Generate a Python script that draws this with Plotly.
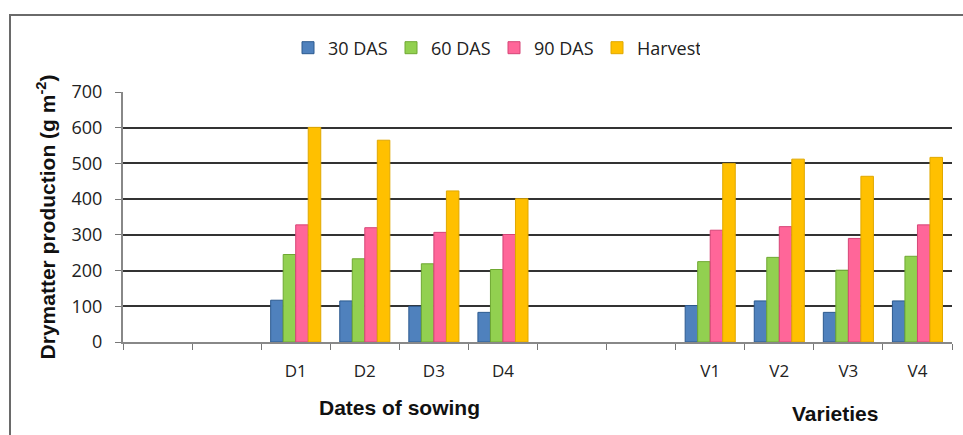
import plotly.graph_objects as go

categories = [" ", "  ", "D1", "D2", "D3", "D4", "   ", "    ", "V1", "V2", "V3", "V4"]
das30 = [None, None, 117, 115, 100, 83, None, None, 102, 115, 83, 115]
das60 = [None, None, 245, 233, 219, 203, None, None, 225, 237, 201, 240]
das90 = [None, None, 328, 320, 307, 301, None, None, 313, 323, 290, 328]
harvest = [None, None, 601, 565, 423, 401, None, None, 500, 512, 464, 517]
series_names = ["30 DAS", "60 DAS", "90 DAS", "Harvest"]
colors = ["#4F81BD", "#92D050", "#FF6699", "#FFC000"]
edge = ["#2C5A8F", "#6FA832", "#D64577", "#E0A800"]

fig = go.Figure()
for name, vals, c, e in zip(series_names, [das30, das60, das90, harvest], colors, edge):
    fig.add_trace(go.Bar(x=categories, y=vals, name=name, marker=dict(color=c, line=dict(color=e, width=1))))

W, H = 963, 435
L, R, T, B = 123, 11, 92, 93
pw, ph = W - L - R, H - T - B

def px(x):
    return (x - L) / pw

def py(y):
    return (H - B - y) / ph

fig.update_layout(
    width=W, height=H,
    margin=dict(l=L, r=R, t=T, b=B, autoexpand=False),
    paper_bgcolor="white", plot_bgcolor="white",
    barmode="group", bargap=0.275, bargroupgap=0,
    font=dict(family="Liberation Sans", size=16, color="#222"),
    legend=dict(orientation="h", x=px(494), y=py(48), xanchor="center", yanchor="middle",
                font=dict(size=18, family="Open Sans", color="#222"), entrywidth=58, itemwidth=30),
    xaxis=dict(type="category", categoryorder="array", categoryarray=categories,
               tickson="boundaries", ticks="outside", ticklen=6, tickcolor="#777",
               showline=True, linecolor="#888", linewidth=2, showgrid=False, automargin=False,
               tickfont=dict(size=17, family="Open Sans", color="#222"), ticklabelstandoff=13),
    yaxis=dict(range=[0, 700], dtick=100, ticks="outside", ticklen=6, tickcolor="#777",
               showline=True, linecolor="#888", linewidth=2, automargin=False,
               showgrid=True, gridcolor="#333333", gridwidth=2,
               tickfont=dict(size=18, family="Open Sans", color="#222"), ticklabelstandoff=9,
               title=dict(text="<b>Drymatter production (g m<sup>-2</sup>)</b>",
                          font=dict(size=21, family="Liberation Sans", color="#111"), standoff=10)),
    annotations=[
        dict(text="<b>Dates of sowing</b>", x=px(399), y=py(407), xref="paper", yref="paper",
             xanchor="center", yanchor="middle",
             showarrow=False, font=dict(size=21, family="Liberation Sans", color="#111")),
        dict(text="<b>Varieties</b>", x=px(835), y=py(413), xref="paper", yref="paper",
             xanchor="center", yanchor="middle",
             showarrow=False, font=dict(size=21, family="Liberation Sans", color="#111")),
    ],
    shapes=[dict(type="rect", xref="paper", yref="paper", x0=px(10), x1=px(975), y0=py(450), y1=py(15),
                 line=dict(color="#6a6a6a", width=2), layer="below")],
)

fig.write_html("out.html", post_script="document.body.style.margin='0';",
               config={"displayModeBar": False})
